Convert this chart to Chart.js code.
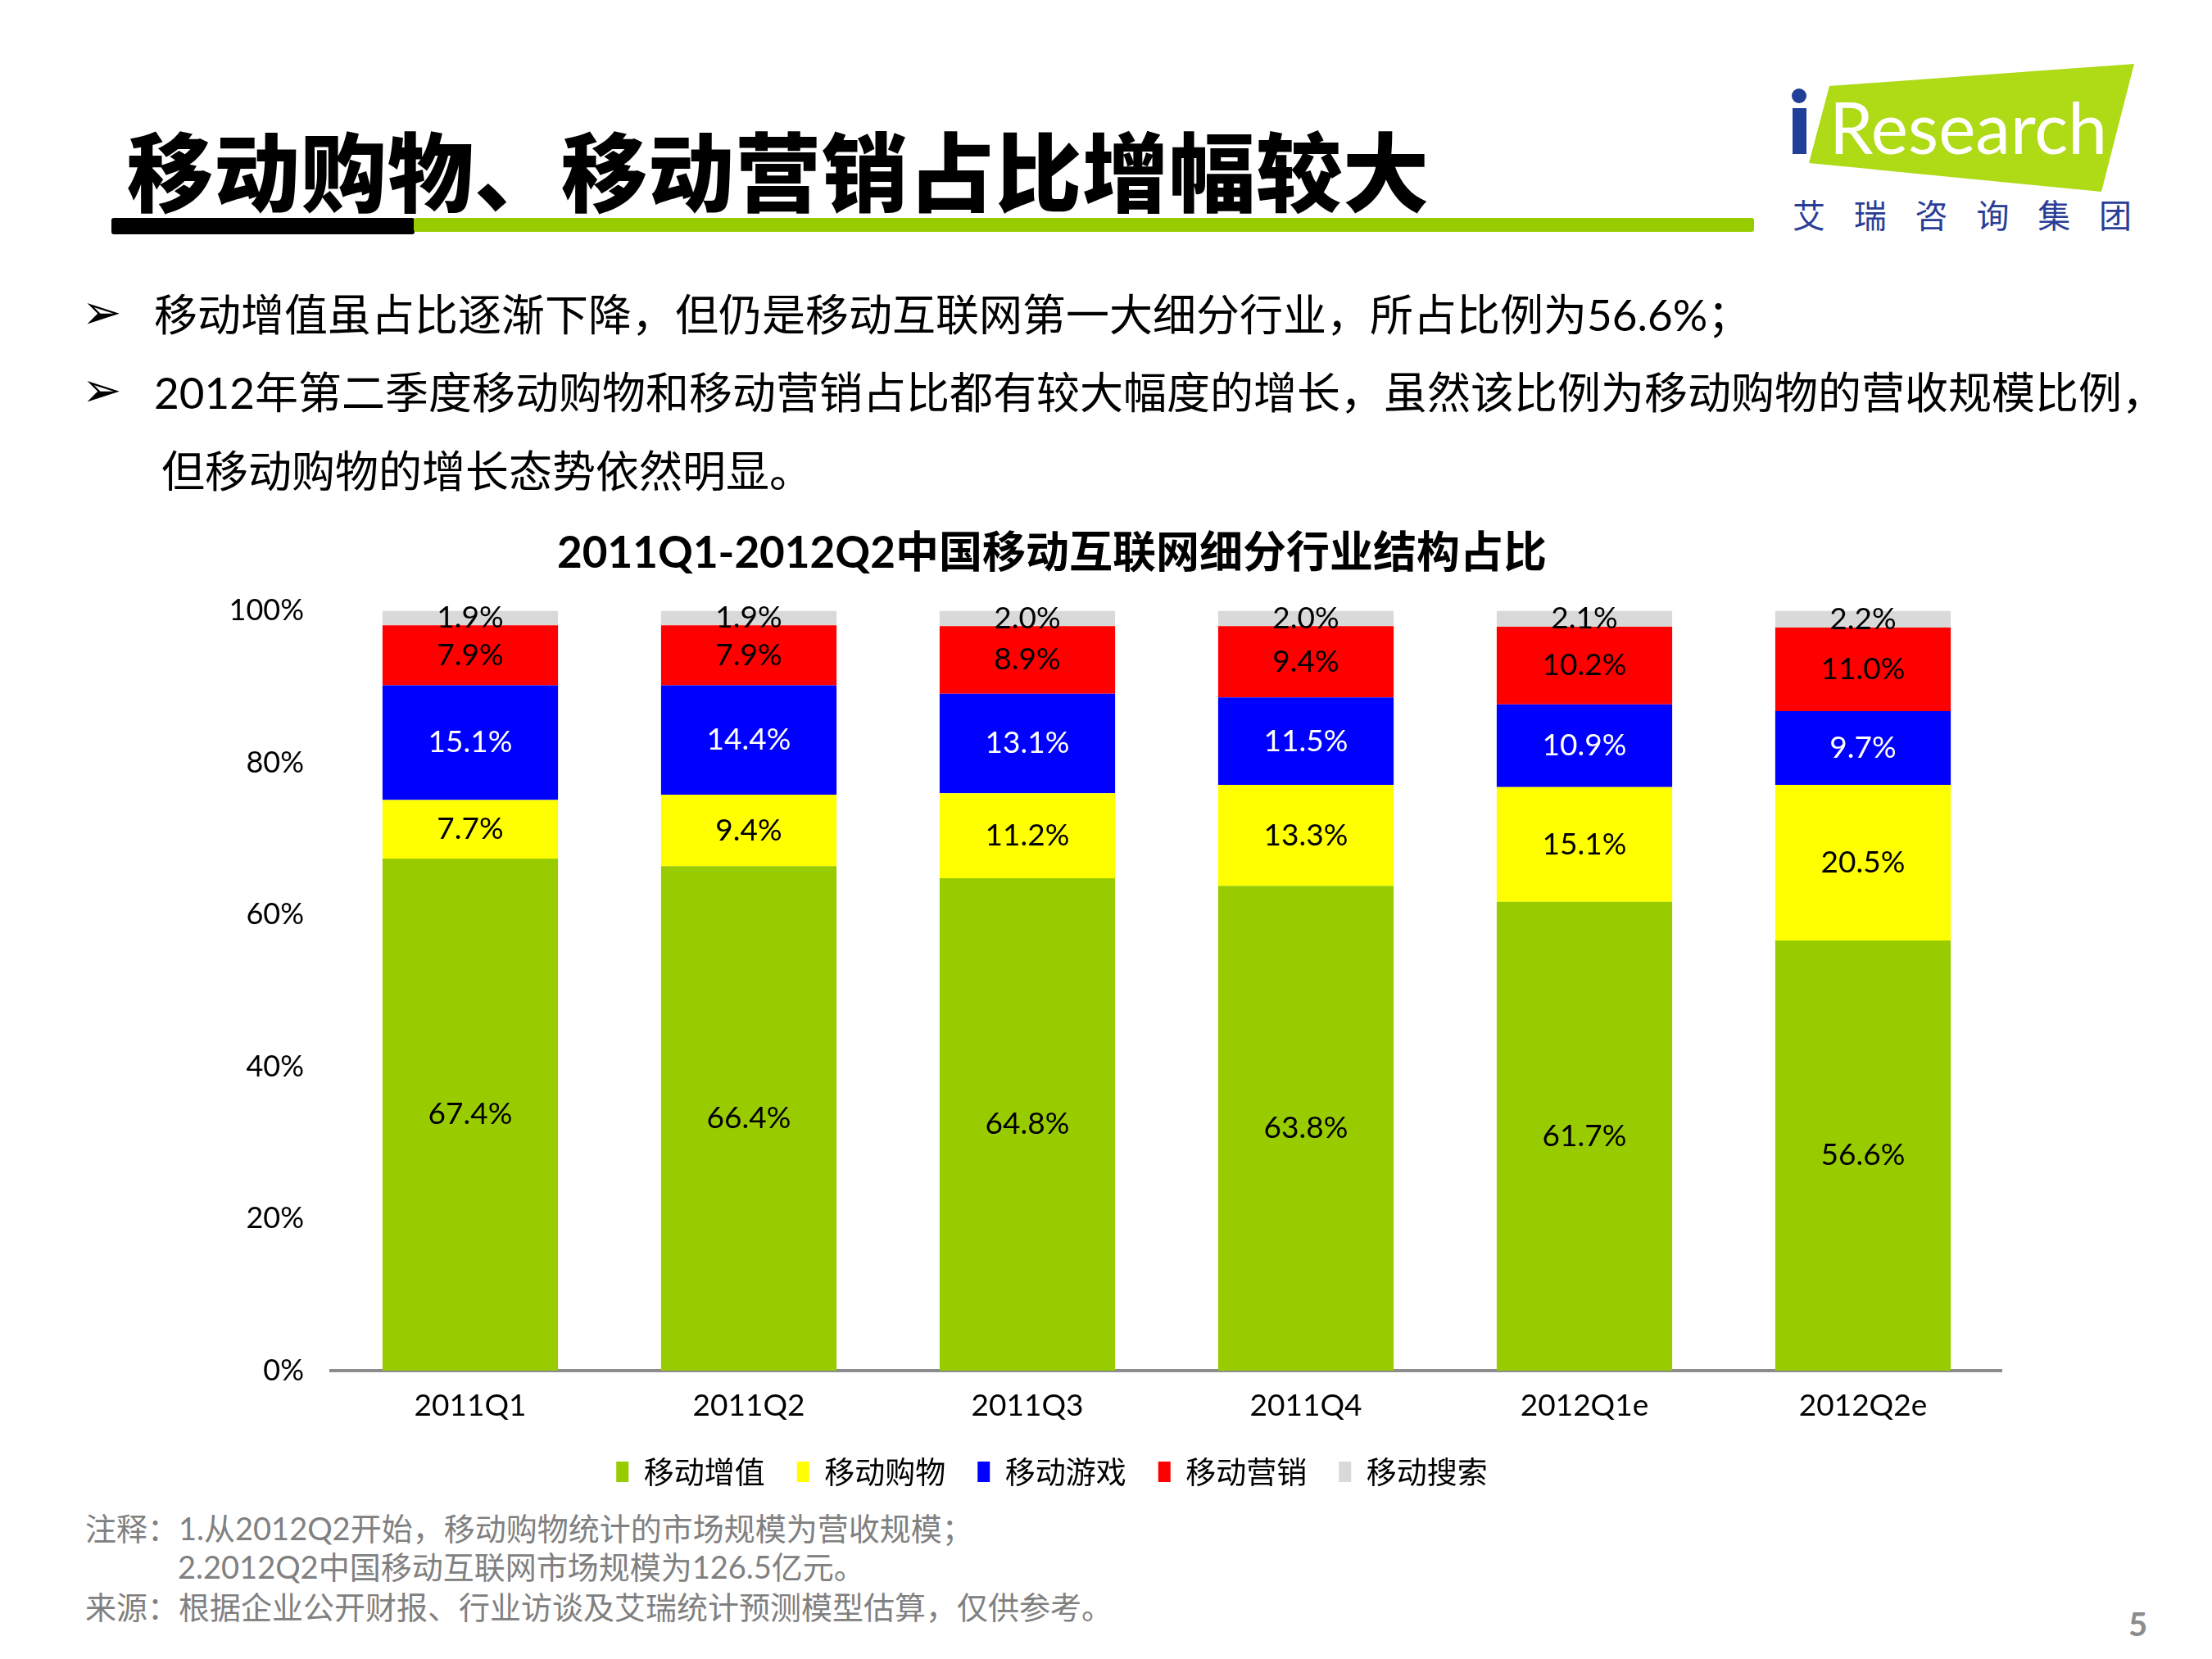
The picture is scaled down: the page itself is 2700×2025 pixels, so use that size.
<!DOCTYPE html>
<html>
<head>
<meta charset="utf-8">
<script src="https://cdn.jsdelivr.net/npm/chart.js@4.4.1/dist/chart.umd.min.js"></script>
<style>
  html, body { margin:0; padding:0; background:#fff; }
  body { width:2700px; height:2025px; position:relative; overflow:hidden;
         font-family: "Lato", "Noto Sans CJK SC", sans-serif; }
  .abs { position:absolute; white-space:nowrap; }
  #title { left:155px; top:144px; font-size:105px; line-height:120px; font-weight:900;
           font-family:"Noto Sans CJK SC", sans-serif; color:#000; letter-spacing:1px; }
  .bar1 { left:136px; top:266px; width:370px; height:20px; background:#000; border-radius:3px; }
  .bar2 { left:505px; top:266px; width:1636px; height:17px; background:#99CC00; border-radius:3px; }
  .bul { font-size:53px; line-height:70px; color:#000; }
  .arrow { font-family:"DejaVu Sans", sans-serif; font-size:58px; line-height:70px; }
  .note { font-size:38px; line-height:48px; color:#808080; }
  #wrap { position:absolute; left:124px; top:640px; width:2320px; height:1185px; }
</style>
</head>
<body>
<div id="title" class="abs">移动购物、移动营销占比增幅较大</div>
<div class="abs bar1"></div>
<div class="abs bar2"></div>

<svg class="abs" style="left:2150px;top:50px" width="550" height="260" viewBox="2150 50 550 260">
  <polygon points="2233,105 2605,78 2565,234 2208,199" fill="#AEDA16"/>
  <rect x="2188" y="132" width="17" height="56" fill="#213E99"/>
  <circle cx="2196" cy="117" r="9" fill="#213E99"/>
  <text x="2233" y="188" font-family="Lato, sans-serif" font-size="88" fill="#fff" textLength="339" lengthAdjust="spacingAndGlyphs">Research</text>
  <text x="2188" y="278" font-family="Noto Sans CJK SC, sans-serif" font-size="40" fill="#2B3E96" textLength="414">艾瑞咨询集团</text>
</svg>

<div class="abs arrow" style="left:100px;top:346px">➢</div>
<div class="abs bul" style="left:188px;top:349px">移动增值虽占比逐渐下降，但仍是移动互联网第一大细分行业，所占比例为56.6%；</div>
<div class="abs arrow" style="left:100px;top:441px">➢</div>
<div class="abs bul" style="left:188px;top:444px">2012年第二季度移动购物和移动营销占比都有较大幅度的增长，虽然该比例为移动购物的营收规模比例，</div>
<div class="abs bul" style="left:197px;top:540px">但移动购物的增长态势依然明显。</div>

<div id="wrap"><canvas id="c"></canvas></div>

<div class="abs note" style="left:104px;top:1841px">注释：1.从2012Q2开始，移动购物统计的市场规模为营收规模；</div>
<div class="abs note" style="left:217px;top:1888px">2.2012Q2中国移动互联网市场规模为126.5亿元。</div>
<div class="abs note" style="left:104px;top:1937px">来源：根据企业公开财报、行业访谈及艾瑞统计预测模型估算，仅供参考。</div>
<div class="abs" style="left:2598px;top:1958px;font-size:40px;line-height:48px;color:#8c8c8c;font-weight:bold;">5</div>

<script>
const chartTitle = "2011Q1-2012Q2中国移动互联网细分行业结构占比";
const categories = ["2011Q1", "2011Q2", "2011Q3", "2011Q4", "2012Q1e", "2012Q2e"];
const seriesNames = ["移动增值", "移动购物", "移动游戏", "移动营销", "移动搜索"];
const valueAdded = [67.4, 66.4, 64.8, 63.8, 61.7, 56.6];
const shopping   = [7.7, 9.4, 11.2, 13.3, 15.1, 20.5];
const gaming     = [15.1, 14.4, 13.1, 11.5, 10.9, 9.7];
const marketing  = [7.9, 7.9, 8.9, 9.4, 10.2, 11.0];
const search     = [1.9, 1.9, 2.0, 2.0, 2.1, 2.2];
const yTicks = [0, 20, 40, 60, 80, 100];

const colors = ["#99CC00", "#FFFF00", "#0000FF", "#FF0000", "#D9D9D9"];
const labelColors = ["#000", "#000", "#fff", "#000", "#000"];
const seriesData = [valueAdded, shopping, gaming, marketing, search];

const labelPlugin = {
  id: 'segLabels',
  afterDatasetsDraw(chart) {
    const ctx = chart.ctx;
    ctx.save();
    ctx.font = '37px Lato, "Noto Sans CJK SC", sans-serif';
    ctx.textAlign = 'center';
    ctx.textBaseline = 'middle';
    chart.data.datasets.forEach((ds, di) => {
      const meta = chart.getDatasetMeta(di);
      meta.data.forEach((el, i) => {
        const y = (el.y + el.base) / 2;
        ctx.fillStyle = labelColors[di];
        ctx.fillText(ds.data[i].toFixed(1) + '%', el.x, y);
      });
    });
    ctx.restore();
  }
};

new Chart(document.getElementById('c'), {
  type: 'bar',
  data: {
    labels: categories,
    datasets: seriesNames.map((n, i) => ({
      label: n,
      data: seriesData[i],
      backgroundColor: colors[i],
      borderWidth: 0,
      barPercentage: 0.63,
      categoryPercentage: 1.0
    }))
  },
  options: {
    responsive: true,
    maintainAspectRatio: false,
    animation: false,
    layout: { padding: { left: 0, right: 0, top: 0, bottom: 0 } },
    plugins: {
      title: {
        display: true,
        text: chartTitle,
        color: '#000',
        font: { size: 53, weight: 'bold', family: 'Lato, "Noto Sans CJK SC", sans-serif' },
        padding: { top: 4, bottom: 38 }
      },
      legend: {
        position: 'bottom',
        labels: {
          color: '#000',
          boxWidth: 15,
          boxHeight: 25,
          padding: 39,
          font: { size: 37, family: '"Noto Sans CJK SC", sans-serif' }
        }
      },
      tooltip: { enabled: false }
    },
    scales: {
      x: {
        stacked: true,
        afterFit(scale) { scale.height = 66; },
        grid: { display: false, drawTicks: false },
        border: { display: true, color: '#8C8C8C', width: 4 },
        ticks: { color: '#000', padding: 21, font: { size: 37, family: 'Lato, sans-serif' } }
      },
      y: {
        stacked: true,
        min: 0, max: 100,
        afterFit(scale) { scale.width = 280; },
        afterBuildTicks(scale) { scale.ticks = yTicks.map(v => ({ value: v })); },
        grid: { display: false, drawTicks: false },
        border: { display: false },
        ticks: { color: '#000', padding: 33, font: { size: 36, family: 'Lato, sans-serif' },
                 callback: v => v + '%' }
      }
    }
  },
  plugins: [labelPlugin]
});
</script>
</body>
</html>
